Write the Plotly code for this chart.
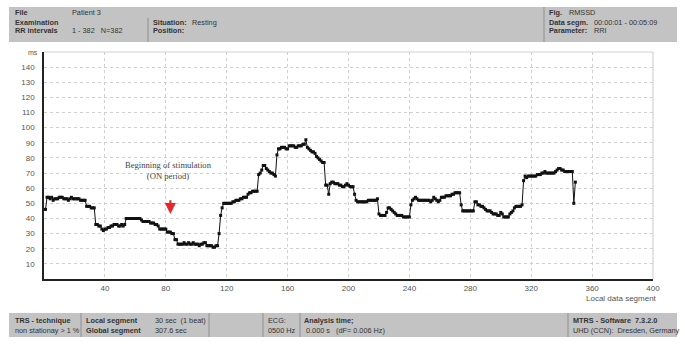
import plotly.graph_objects as go

# ---- data -------------------------------------------------------------
rmssd_ms = [
    46, 54, 54, 53, 54, 52, 53, 53, 53, 54,
    54, 54, 53, 53, 53, 52, 53, 54, 53, 53,
    53, 53, 53, 52, 52, 52, 52, 48, 48, 48,
    47, 47, 47, 36, 36, 35, 35, 33, 32, 33,
    33, 34, 34, 35, 35, 36, 36, 36, 35, 35,
    36, 35, 36, 40, 40, 40, 40, 40, 40, 40,
    40, 40, 40, 39, 38, 38, 38, 38, 38, 37,
    37, 37, 36, 36, 35, 33, 33, 33, 33, 33,
    31, 31, 31, 30, 30, 26, 26, 23, 23, 23,
    23, 24, 23, 23, 24, 23, 23, 24, 23, 23,
    23, 22, 23, 23, 24, 24, 22, 22, 22, 22,
    21, 21, 22, 22, 30, 42, 47, 50, 50, 50,
    50, 50, 50, 51, 51, 52, 52, 52, 53, 53,
    54, 54, 54, 56, 57, 57, 58, 58, 58, 58,
    69, 70, 72, 75, 75, 73, 72, 71, 70, 70,
    69, 68, 82, 86, 86, 87, 87, 87, 86, 86,
    88, 88, 88, 88, 87, 87, 88, 88, 88, 89,
    89, 92, 87, 86, 85, 84, 84, 83, 81, 80,
    79, 78, 77, 77, 62, 62, 56, 63, 64, 64,
    63, 63, 63, 62, 62, 61, 61, 62, 63, 62,
    61, 61, 61, 56, 52, 51, 51, 51, 51, 51,
    51, 51, 52, 52, 52, 52, 52, 52, 53, 43,
    42, 42, 42, 42, 44, 47, 47, 46, 45, 44,
    43, 42, 42, 42, 42, 41, 41, 41, 41, 41,
    49, 52, 53, 54, 53, 52, 52, 52, 52, 52,
    52, 52, 52, 51, 52, 54, 53, 52, 51, 52,
    54, 54, 54, 55, 55, 55, 55, 56, 56, 57,
    57, 57, 57, 49, 45, 45, 45, 45, 45, 45,
    45, 45, 51, 51, 49, 49, 48, 48, 47, 46,
    45, 45, 45, 44, 43, 43, 43, 42, 42, 44,
    43, 41, 41, 41, 41, 43, 44, 45, 47, 48,
    48, 48, 48, 49, 65, 68, 67, 68, 68, 68,
    68, 68, 68, 69, 69, 69, 70, 70, 71, 70,
    70, 70, 70, 70, 70, 71, 72, 73, 73, 72,
    72, 71, 71, 71, 71, 71, 71, 50, 64,
]
segment_idx = list(range(1, len(rmssd_ms) + 1))

x_ticks = [40, 80, 120, 160, 200, 240, 280, 320, 360, 400]
y_ticks = [10, 20, 30, 40, 50, 60, 70, 80, 90, 100, 110, 120, 130, 140]

stim_x = 83
stim_label = "Beginning of stimulation<br>(ON period)"

# ---- figure -----------------------------------------------------------
W, H = 685, 344
L, R, T, B = 44, 653, 52, 279


def px(x):
    return (x - L) / (R - L)


def py(y):
    return (B - y) / (B - T)


fig = go.Figure()
fig.add_trace(go.Scatter(
    x=segment_idx, y=rmssd_ms, mode="lines+markers",
    line=dict(color="#111111", width=1),
    marker=dict(symbol="square", size=3, color="#111111"),
    hoverinfo="skip", showlegend=False,
))

GRID = "#cfcfcf"
TICKFONT = dict(family="Liberation Sans, Arial, sans-serif", size=8, color="#555555")

fig.update_layout(
    width=W, height=H,
    margin=dict(l=L, r=W - R, t=T, b=H - B),
    paper_bgcolor="white", plot_bgcolor="white",
    xaxis=dict(range=[0, 400], tickvals=x_ticks, showgrid=True, gridcolor=GRID,
               griddash="dot", gridwidth=1, zeroline=False, showline=True,
               linecolor="#222222", linewidth=1.5, ticks="", tickfont=TICKFONT,
               ticklabelstandoff=1),
    yaxis=dict(range=[0, 150], tickvals=y_ticks, showgrid=True, gridcolor=GRID,
               griddash="dot", gridwidth=1, zeroline=False, showline=True,
               linecolor="#222222", linewidth=1.5, ticks="", tickfont=TICKFONT,
               ticklabelstandoff=6),
)

# top / right light border of the plot box
fig.add_shape(type="line", xref="paper", yref="paper", x0=0, x1=1, y0=1, y1=1,
              line=dict(color="#d0d0d0", width=1), layer="below")
fig.add_shape(type="line", xref="paper", yref="paper", x0=1, x1=1, y0=0, y1=1,
              line=dict(color="#c8c8c8", width=1), layer="below")

# axis captions
fig.add_annotation(text="ms", xref="paper", yref="paper", x=px(40), y=py(52),
                   xanchor="right", yanchor="middle", showarrow=False,
                   font=dict(family="Liberation Sans, Arial", size=7, color="#555555"))
fig.add_annotation(text="Local data segment", xref="paper", yref="paper",
                   x=px(621), y=py(298.5), xanchor="center", yanchor="middle",
                   showarrow=False,
                   font=dict(family="Liberation Sans, Arial", size=8, color="#555555"))

# stimulation annotation
fig.add_annotation(text=stim_label, x=stim_x - 1, y=72, xref="x", yref="y",
                   showarrow=False, xanchor="center", yanchor="middle",
                   font=dict(family="Liberation Serif, Times New Roman, serif", size=8.6,
                             color="#444444"))
fig.add_annotation(text="", x=stim_x, y=43, ax=stim_x, ay=53, xref="x", yref="y",
                   axref="x", ayref="y", showarrow=True, arrowhead=2, arrowsize=1,
                   arrowwidth=2.2, arrowcolor="#e8262a")

# ---- header / footer boxes -------------------------------------------
BOX = "#c3c3c3"
SEP = "#8f8f8f"


def rect(x0, y0, x1, y1, color):
    fig.add_shape(type="rect", xref="paper", yref="paper", x0=px(x0), x1=px(x1),
                  y0=py(y1), y1=py(y0), fillcolor=color, line=dict(width=0),
                  layer="below")


def vline(x, y0, y1, color=SEP):
    fig.add_shape(type="line", xref="paper", yref="paper", x0=px(x), x1=px(x),
                  y0=py(y1), y1=py(y0), line=dict(color=color, width=1))


def txt(x, y, s, bold=False, size=7.3, color="#333333"):
    fig.add_annotation(text=f"<b>{s}</b>" if bold else s, xref="paper", yref="paper",
                       x=px(x), y=py(y), xanchor="left", yanchor="middle",
                       showarrow=False,
                       font=dict(family="Liberation Sans, Arial, sans-serif",
                                 size=size, color=color))


rect(9, 7, 677, 42, BOX)
vline(148, 18, 42)
vline(544, 7, 42)

txt(13, 12.5, "File", bold=True)
txt(70, 12.5, "Patient 3")
txt(13, 22, "Examination", bold=True)
txt(13, 31, "RR intervals", bold=True)
txt(70, 31, "1 - 382   N=382")
txt(151, 22, "Situation:", bold=True)
txt(190, 22, "Resting")
txt(151, 31, "Position:", bold=True)
txt(547, 12.5, "Fig.", bold=True)
txt(567, 12.5, "RMSSD")
txt(547, 22, "Data segm.", bold=True)
txt(592, 22, "00:00:01 - 00:05:09")
txt(547, 31, "Parameter:", bold=True)
txt(592, 31, "RRI")

rect(9, 313, 677, 337, BOX)
for xs in (81, 209, 263, 300, 568):
    vline(xs, 313, 337)

txt(13, 320.5, "TRS - technique", bold=True)
txt(13, 330.5, "non stationay > 1 %")
txt(84, 320.5, "Local segment", bold=True)
txt(153, 320.5, "30 sec  (1 beat)")
txt(84, 330.5, "Global segment", bold=True)
txt(153, 330.5, "307.6 sec")
txt(266, 320.5, "ECG:")
txt(266, 330.5, "0500 Hz")
txt(302, 320.5, "Analysis time;", bold=True)
txt(304, 330.5, "0.000 s   (dF= 0.006 Hz)")
txt(571, 320.5, "MTRS - Software  7.3.2.0", bold=True)
txt(571, 330.5, "UHD (CCN):  Dresden, Germany")

fig.write_html("out.html", config={"displayModeBar": False},
               post_script="document.body.style.margin='0';document.body.style.overflow='hidden';")
